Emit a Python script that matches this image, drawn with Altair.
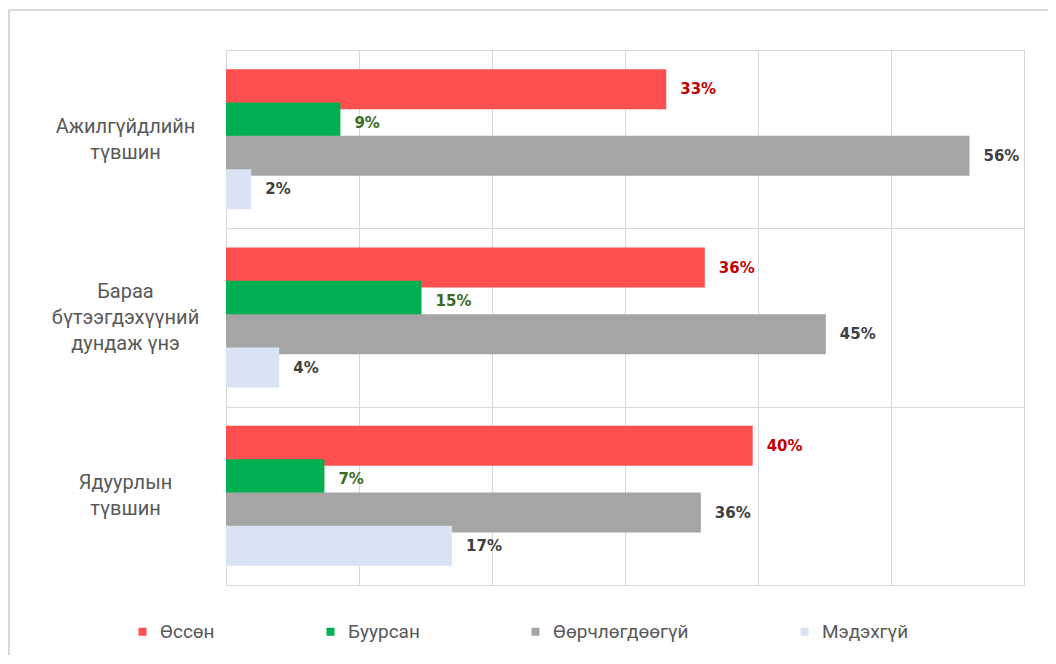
import altair as alt
import pandas as pd

categories = ["Ажилгүйдлийн\nтүвшин", "Бараа\nбүтээгдэхүүний\nдундаж үнэ", "Ядуурлын\nтүвшин"]
series = ["Өссөн", "Буурсан", "Өөрчлөгдөөгүй", "Мэдэхгүй"]
values_ajilguidel = [33.1, 8.6, 55.9, 1.9]
values_baraa = [36.0, 14.7, 45.1, 4.0]
values_yaduural = [39.6, 7.4, 35.7, 17.0]

bar_colors = ["#FF4F4F", "#00B050", "#A5A5A5", "#DAE3F3"]
label_colors = ["#C00000", "#3B6B22", "#404040", "#404040"]

rows = []
for cat, vals in zip(categories, [values_ajilguidel, values_baraa, values_yaduural]):
    for s, v in zip(series, vals):
        rows.append({"category": cat, "series": s, "value": v / 100})
df = pd.DataFrame(rows)

GRID = "#D9D9D9"
FONT = "Roboto"
ZW = "\u200b"

label_expr = (
    "split((length(split(datum.label, '\\n')) == 2 ? '" + ZW + "\\n' : '') + "
    "join(split(datum.label, '\\n'), '\\n" + ZW + "\\n'), '\\n')"
)

y_enc = alt.Y(
    "category:N",
    sort=categories,
    scale=alt.Scale(paddingInner=0, paddingOuter=0),
    axis=alt.Axis(
        title=None,
        tickBand="extent",
        grid=True,
        gridColor=GRID,
        ticks=False,
        domain=False,
        labelExpr=label_expr,
        labelAlign="center",
        labelBaseline="middle",
        labelPadding=101,
        labelOffset=-26,
        labelFont=FONT,
        labelFontSize=20,
        labelColor="#595959",
        labelLineHeight=13,
    ),
)
yoff_enc = alt.YOffset(
    "series:N",
    sort=series,
    scale=alt.Scale(domain=series, paddingInner=0, paddingOuter=0.675),
)
x_enc = alt.X(
    "value:Q",
    scale=alt.Scale(domain=[0, 0.6], nice=False),
    axis=alt.Axis(
        title=None,
        values=[0, 0.1, 0.2, 0.3, 0.4, 0.5, 0.6],
        labels=False,
        ticks=False,
        domain=False,
        grid=True,
        gridColor=GRID,
    ),
)

bars = alt.Chart(df).mark_bar(size=40).encode(
    x=x_enc,
    y=y_enc,
    yOffset=yoff_enc,
    color=alt.Color(
        "series:N",
        sort=series,
        scale=alt.Scale(domain=series, range=bar_colors),
        legend=alt.Legend(
            title=None,
            orient="none",
            direction="horizontal",
            columns=4,
            legendX=-93,
            legendY=572,
            symbolType="square",
            symbolSize=64,
            symbolStrokeWidth=0,
            labelFont=FONT,
            labelFontSize=19,
            labelColor="#595959",
            labelOffset=8,
            columnPadding=106,
            padding=0,
        ),
    ),
)

labels = alt.Chart(df).mark_text(
    align="left", baseline="middle", dx=14, font="DejaVu Sans", fontSize=15, fontWeight="bold"
).encode(
    x=alt.X("value:Q"),
    y=alt.Y("category:N", sort=categories),
    yOffset=alt.YOffset("series:N", sort=series),
    text=alt.Text("value:Q", format=".0%"),
    color=alt.Color("series:N", scale=alt.Scale(domain=series, range=label_colors), legend=None),
)

frame_left = alt.Chart(df).mark_rule(color=GRID, strokeWidth=2).encode(
    x=alt.value(-217), y=alt.value(-40), y2=alt.value(700)
)
frame_top = alt.Chart(df).mark_rule(color=GRID, strokeWidth=2).encode(
    x=alt.value(-217), x2=alt.value(900), y=alt.value(-40)
)

chart = (
    alt.layer(frame_left, frame_top, bars, labels)
    .resolve_scale(color="independent")
    .properties(
        width=798,
        height=535,
        autosize=alt.AutoSizeParams(type="none"),
        padding={"left": 218, "top": 42, "right": 24, "bottom": 70},
    )
    .configure_view(stroke=GRID)
)

chart.save("out.html", embed_options={"renderer": "svg", "actions": False})
